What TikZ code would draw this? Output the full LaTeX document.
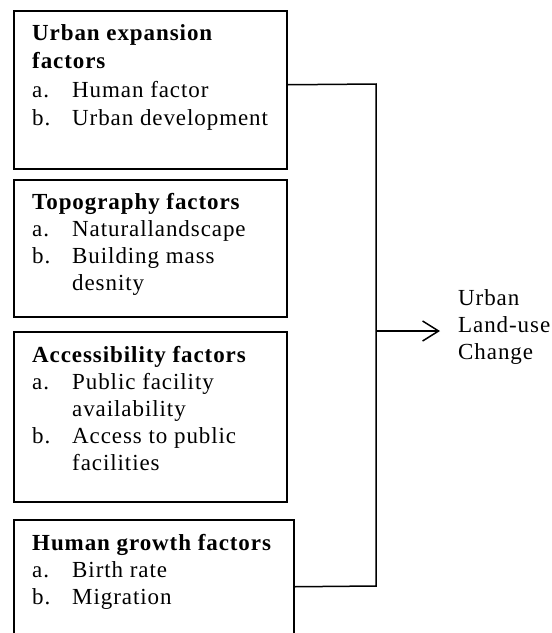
\documentclass[tikz,border=0pt]{standalone}
\usepackage{fontspec}
\setmainfont{Liberation Serif}[LetterSpace=4]
\usetikzlibrary{arrows.meta}

\begin{document}
\begin{tikzpicture}[x=1pt, y=-1pt,
    factorbox/.style = {draw, line width=1.5pt, anchor = north west, minimum width=273pt},
    factortext/.style = {anchor = base west, inner sep=0pt, font=\fontsize{23}{27}\selectfont},
    link/.style = {line width=1.5pt}]
    \useasboundingbox (0,0) rectangle (552,633);
    \clip (0,0) rectangle (552,633);
    % the four boxes
    \node[factorbox, minimum height=158pt] (urbanbox) at (13,10) {};
    \node[factorbox, minimum height=137pt] (topobox) at (13,179) {};
    \node[factorbox, minimum height=170pt] (accessbox) at (13,331) {};
    \node[factorbox, minimum height=134pt, minimum width=280pt] (humanbox) at (13,519) {};
    % their texts
    \node[factortext, font=\fontsize{23}{28.5}\selectfont] (urbantext) at ([shift={(19,30)}]urbanbox.north west)
      {\begin{tabular}[t]{@{}p{40pt}@{}l@{}}
        \multicolumn{2}{@{}l@{}}{\textbf{Urban expansion}}\\
        \multicolumn{2}{@{}l@{}}{\textbf{factors}}\\
        a. & Human factor\\
        b. & Urban development
      \end{tabular}};
    \node[factortext] (topotext) at ([shift={(19,30)}]topobox.north west)
      {\begin{tabular}[t]{@{}p{40pt}@{}l@{}}
        \multicolumn{2}{@{}l@{}}{\textbf{Topography factors}}\\
        a. & Naturallandscape\\
        b. & Building mass\\
           & desnity
      \end{tabular}};
    \node[factortext] (accesstext) at ([shift={(19,31)}]accessbox.north west)
      {\begin{tabular}[t]{@{}p{40pt}@{}l@{}}
        \multicolumn{2}{@{}l@{}}{\textbf{Accessibility factors}}\\
        a. & Public facility\\
           & availability\\
        b. & Access to public\\
           & facilities
      \end{tabular}};
    \node[factortext] (humantext) at ([shift={(19,31)}]humanbox.north west)
      {\begin{tabular}[t]{@{}p{40pt}@{}l@{}}
        \multicolumn{2}{@{}l@{}}{\textbf{Human growth factors}}\\
        a. & Birth rate\\
        b. & Migration
      \end{tabular}};
    % outcome
    \node[factortext, anchor = west, align = left] (change) at (458,327)
      {Urban\\Land-use\\Change};
    \coordinate (bustop) at (376,84);
    \coordinate (busbot) at (376,586);
    \coordinate (busmid) at (376,331);
    \coordinate (arrowend) at (440,331);
    \draw[link] ([yshift=5pt]urbanbox.east) -- (bustop) -- (busbot) -- (humanbox.east);
    \draw[link, -{Straight Barb[length=16pt, width=20pt]}] (busmid) -- (arrowend);
\end{tikzpicture}
\end{document}
